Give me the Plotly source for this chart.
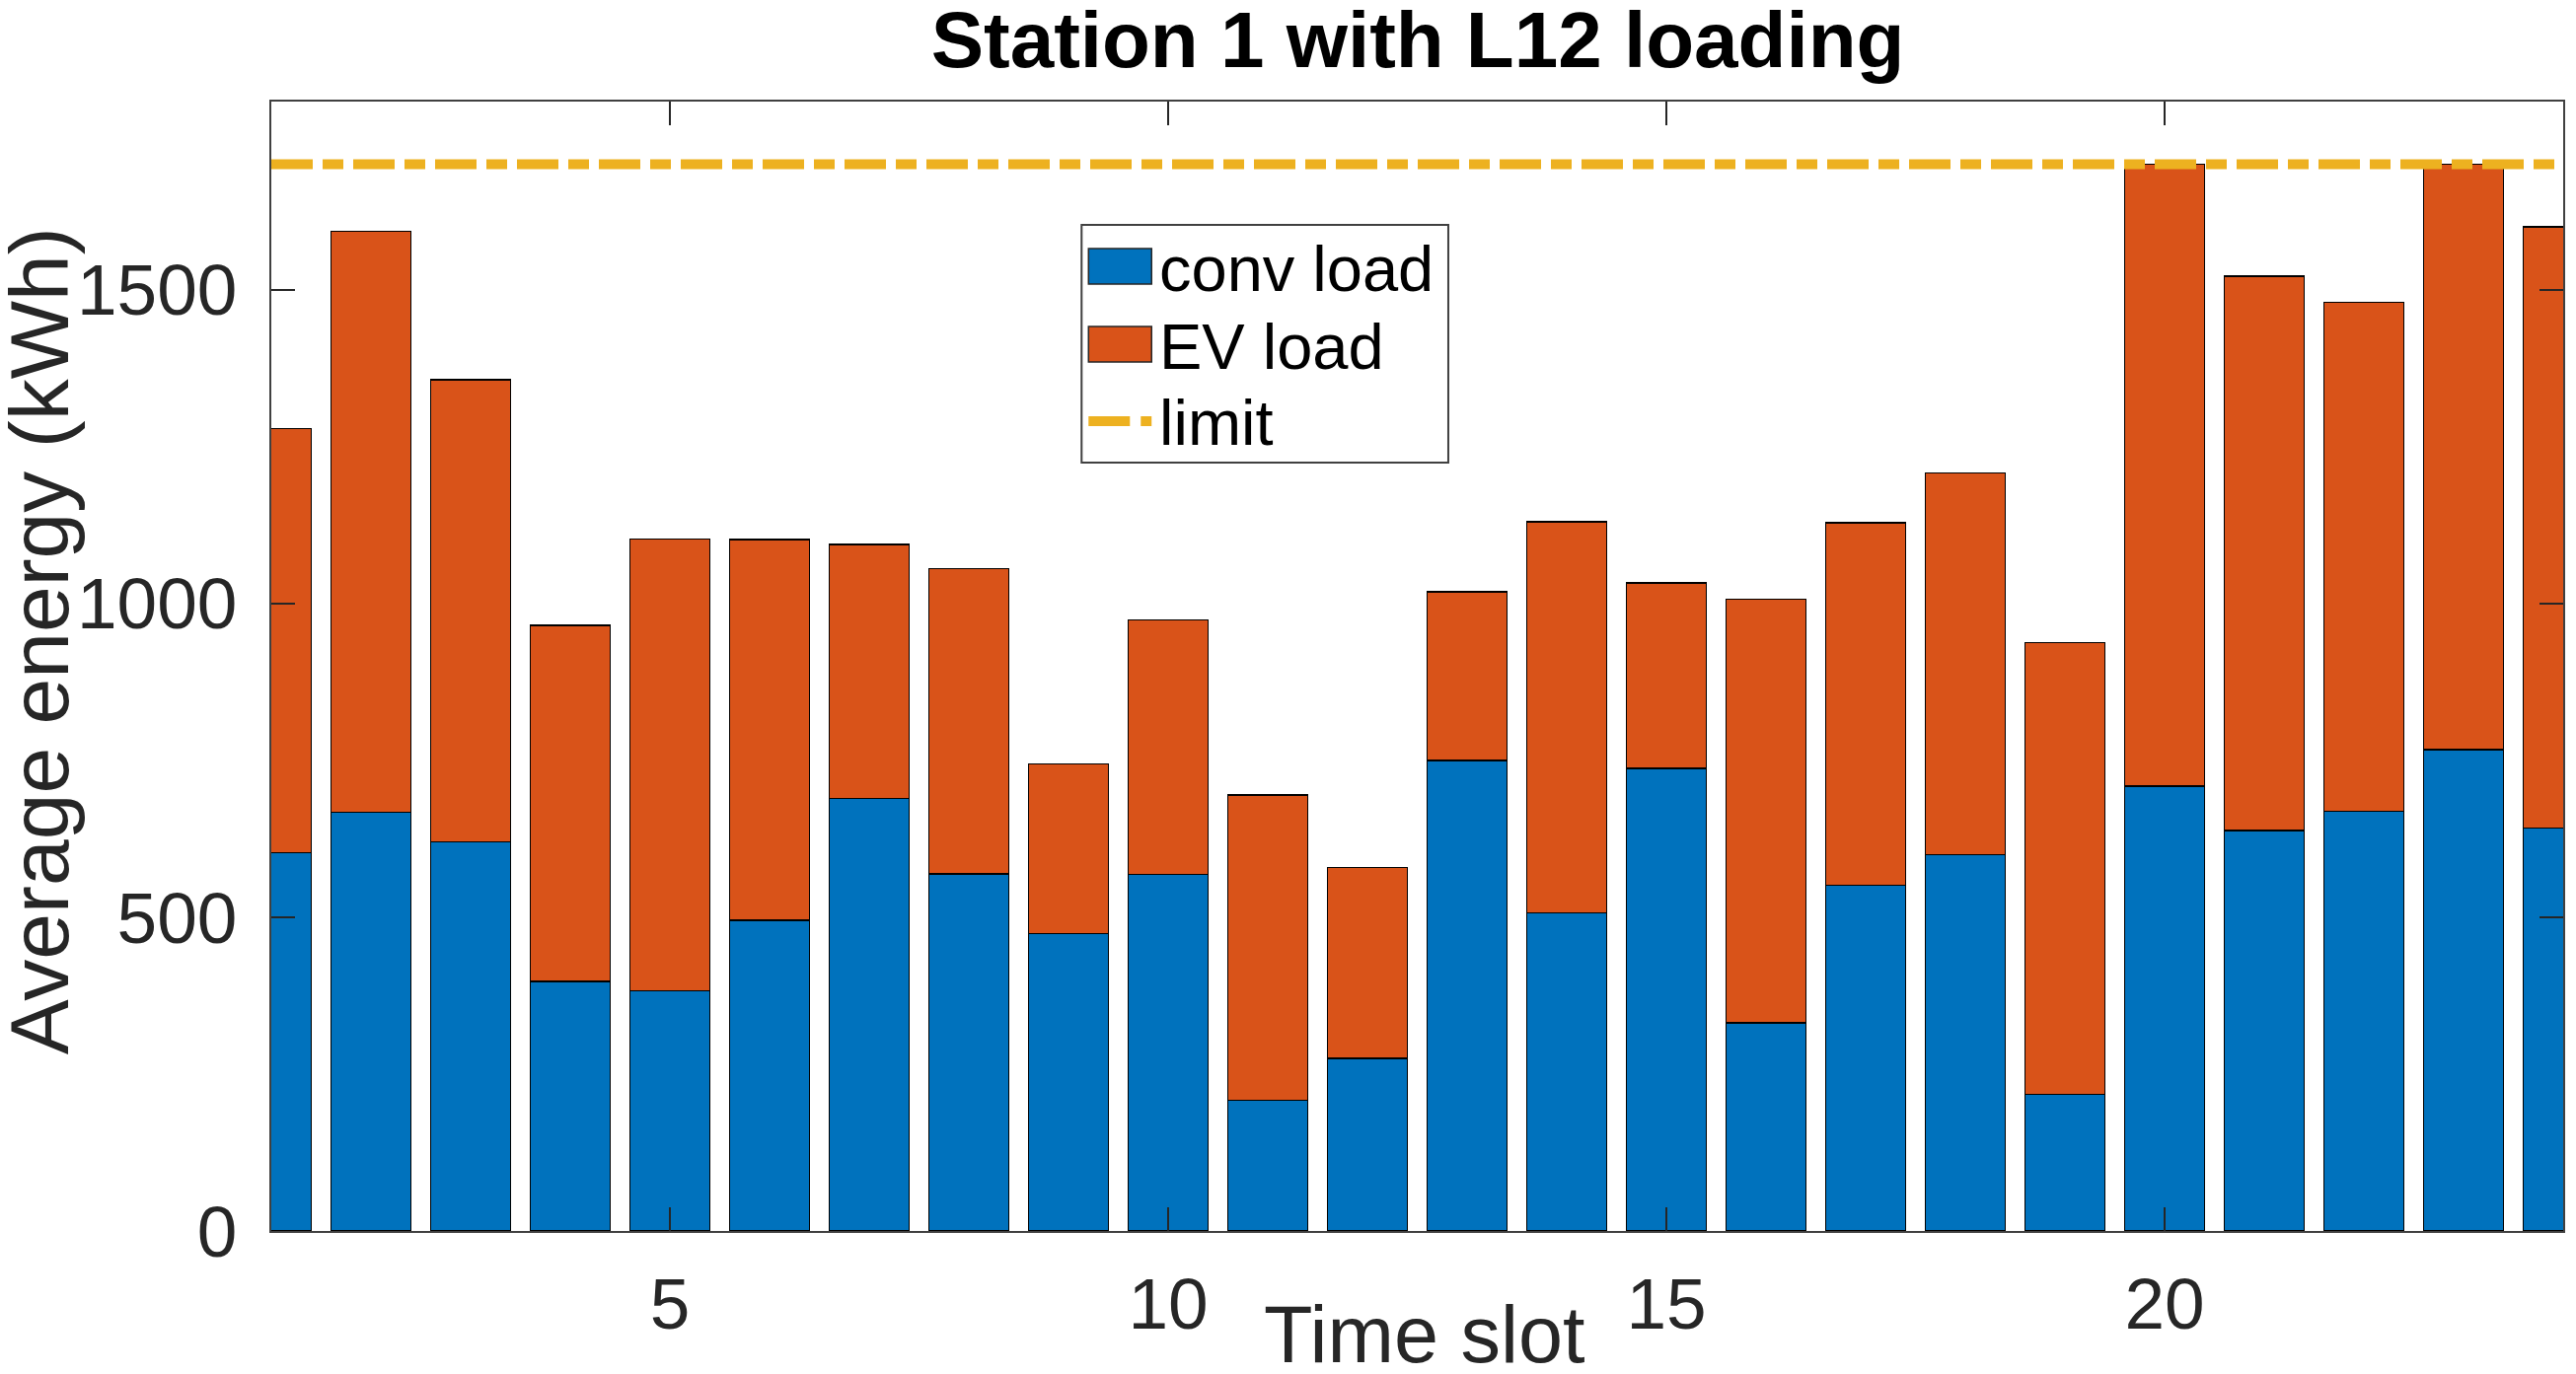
import plotly.graph_objects as go

# ---- data ----
time_slot = list(range(1, 25))
conv_load = [603, 667, 620, 398, 383, 495, 689, 569, 474, 568, 208, 275,
             750, 507, 737, 332, 551, 600, 218, 709, 638, 669, 767, 642]
ev_load = [676, 926, 737, 567, 720, 607, 405, 487, 270, 406, 487, 304,
           269, 623, 296, 675, 578, 608, 720, 991, 884, 811, 933, 958]
limit_value = 1700
limit = [limit_value] * len(time_slot)
x_ticks = [5, 10, 15, 20]
y_ticks = [0, 500, 1000, 1500]

series_names = ["conv load", "EV load", "limit"]
BLUE = "#0072BD"
ORANGE = "#D95319"
YELLOW = "#EDB120"
TXT = "#262626"
FONT = "Liberation Sans, Arial, Helvetica, sans-serif"

W, H = 2611, 1393
L, R, T, B = 275, 11, 103, 145
PW, PH = W - L - R, H - T - B


def px_x(px):
    return (px - L) / PW


def px_y(py):
    return (H - B - py) / PH


fig = go.Figure()
fig.add_trace(go.Bar(x=time_slot, y=conv_load, name=series_names[0], width=0.8,
                     marker=dict(color=BLUE, line=dict(color="black", width=1.5)),
                     showlegend=False))
fig.add_trace(go.Bar(x=time_slot, y=ev_load, name=series_names[1], width=0.8,
                     marker=dict(color=ORANGE, line=dict(color="black", width=1.5)),
                     showlegend=False))
fig.add_trace(go.Scatter(x=time_slot, y=limit, mode="lines", name=series_names[2],
                         line=dict(color=YELLOW, width=10, dash="42px,10px,21px,10px"),
                         showlegend=False, cliponaxis=True))

shapes = []
annotations = []

# legend box (manual, MATLAB-style)
lx0, lx1, ly0, ly1 = 1097, 1469, 228, 469
shapes.append(dict(type="rect", xref="paper", yref="paper",
                   x0=px_x(lx0), x1=px_x(lx1), y0=px_y(ly1), y1=px_y(ly0),
                   line=dict(color="#404040", width=2), fillcolor="white", layer="above"))
rows = [270, 349, 427]
for i, (name, cy) in enumerate(zip(series_names, rows)):
    if i < 2:
        col = BLUE if i == 0 else ORANGE
        shapes.append(dict(type="rect", xref="paper", yref="paper",
                           x0=px_x(1104), x1=px_x(1168), y0=px_y(cy + 18), y1=px_y(cy - 18),
                           line=dict(color="#262626", width=1.5), fillcolor=col, layer="above"))
    else:
        shapes.append(dict(type="line", xref="paper", yref="paper",
                           x0=px_x(1104), x1=px_x(1168), y0=px_y(cy), y1=px_y(cy),
                           line=dict(color=YELLOW, width=10, dash="42px,11px,21px,10px"),
                           layer="above"))
    annotations.append(dict(text=name, xref="paper", yref="paper",
                            x=px_x(1174), y=px_y(cy + 2), xanchor="left", yanchor="middle",
                            showarrow=False, font=dict(family=FONT, size=65, color="black")))

# axis titles
annotations.append(dict(text="Time slot", xref="paper", yref="paper",
                         x=px_x(1445), y=px_y(1353), xanchor="center", yanchor="middle",
                         showarrow=False, font=dict(family=FONT, size=81, color=TXT)))
annotations.append(dict(text="Average energy (kWh)", xref="paper", yref="paper",
                        x=px_x(40), y=px_y(650), xanchor="center", yanchor="middle",
                        textangle=-90, showarrow=False,
                        font=dict(family=FONT, size=84, color=TXT)))

fig.update_layout(
    width=W, height=H,
    margin=dict(l=L, r=R, t=T, b=B, pad=0),
    paper_bgcolor="white", plot_bgcolor="white",
    barmode="stack",
    showlegend=False,
    title=dict(text="<b>Station 1 with L12 loading</b>", x=1437 / W,
               xanchor="center", xref="container", yref="container",
               y=1 - 40 / H, yanchor="middle",
               font=dict(family=FONT, size=80, color="black")),
    shapes=shapes,
    annotations=annotations,
    xaxis=dict(range=[1, 24], tickvals=x_ticks, ticks="inside", ticklen=24,
               tickcolor=TXT, tickwidth=1.5, showline=True, linecolor="#404040",
               linewidth=2, mirror="allticks", showgrid=False, zeroline=False,
               tickfont=dict(family=FONT, size=73, color=TXT), ticklabelstandoff=9),
    yaxis=dict(range=[0, 1800], tickvals=y_ticks, ticks="inside", ticklen=24,
               tickcolor=TXT, tickwidth=1.5, showline=True, linecolor="#404040",
               linewidth=2, mirror="allticks", showgrid=False, zeroline=False,
               tickfont=dict(family=FONT, size=73, color=TXT), ticklabelstandoff=18),
)

fig.write_html("out.html")
